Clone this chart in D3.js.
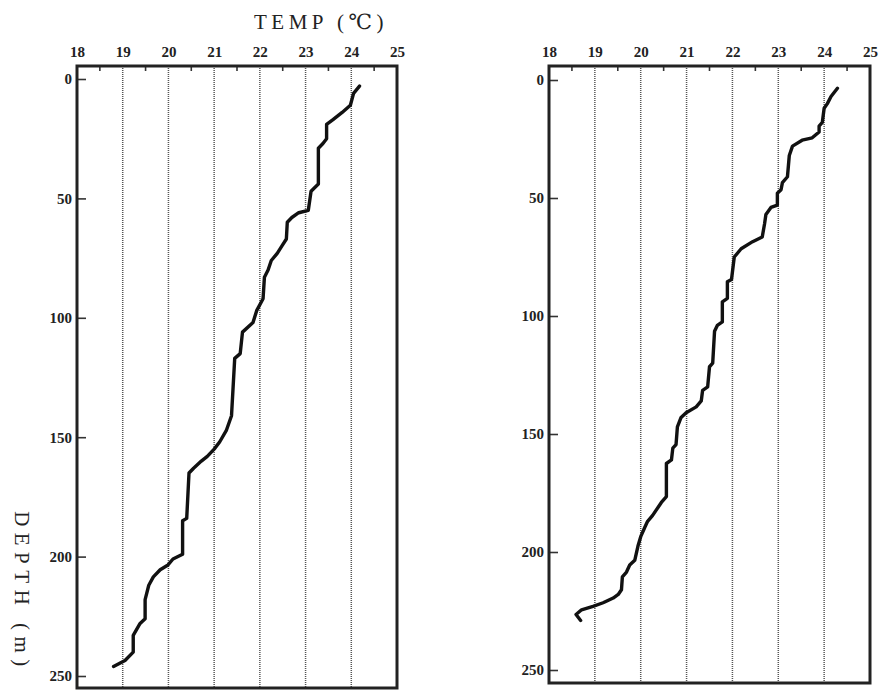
<!DOCTYPE html>
<html>
<head>
<meta charset="utf-8">
<script src="https://cdn.jsdelivr.net/npm/d3@7"></script>
<style>
  body { margin: 0; background: #fff; }
  svg { display: block; }
</style>
</head>
<body>
<svg id="chart" width="879" height="690"></svg>
<script>
// ---- data ----
const tempTicks = [18, 19, 20, 21, 22, 23, 24, 25];
const depthTicks = [0, 50, 100, 150, 200, 250];
const titleText = "TEMP (℃)";
const depthLabel = "DEPTH (m)";

const leftDepth = [3, 6, 11, 14, 17, 19, 25, 27, 29, 44, 47, 55, 56, 58, 60, 67, 70, 73, 76, 80, 83, 92, 97, 102, 106, 115, 117, 141, 147, 152, 155, 158, 160, 163, 165, 184, 185, 199, 201, 203.5, 205.5, 208.5, 212, 218, 226, 228, 233, 240, 243.5, 246];
const leftTemp  = [24.18, 24.05, 23.98, 23.8, 23.6, 23.46, 23.46, 23.38, 23.28, 23.28, 23.12, 23.06, 22.85, 22.7, 22.6, 22.58, 22.48, 22.38, 22.25, 22.18, 22.1, 22.07, 21.93, 21.85, 21.62, 21.57, 21.45, 21.38, 21.27, 21.12, 21.0, 20.85, 20.72, 20.55, 20.45, 20.4, 20.31, 20.31, 20.1, 19.99, 19.82, 19.67, 19.57, 19.49, 19.49, 19.38, 19.23, 19.23, 19.05, 18.8];

const rightDepth = [3.5, 7, 10, 12, 18, 19.5, 22, 24.5, 25.5, 28, 32, 41, 43.5, 46.5, 48, 53, 54, 57, 61, 66.5, 68.5, 71.5, 75, 84.5, 85.5, 92.5, 94, 102.5, 104, 106.5, 120, 121.5, 130, 131.5, 136, 138.5, 141, 143, 147, 154.5, 156, 161, 162.5, 176.5, 179, 184.5, 187, 189.5, 193.5, 197.5, 203.5, 205.5, 208.5, 210.5, 216, 218, 219.5, 221.5, 223, 224.5, 226.5, 229];
const rightTemp  = [24.29, 24.15, 24.07, 24.0, 23.96, 23.89, 23.89, 23.74, 23.52, 23.31, 23.24, 23.2, 23.09, 23.06, 22.98, 22.98, 22.84, 22.73, 22.7, 22.65, 22.44, 22.19, 22.04, 21.98, 21.89, 21.89, 21.78, 21.78, 21.67, 21.61, 21.57, 21.5, 21.46, 21.35, 21.32, 21.21, 20.99, 20.88, 20.8, 20.77, 20.7, 20.67, 20.56, 20.56, 20.45, 20.26, 20.15, 20.09, 20.0, 19.94, 19.87, 19.76, 19.69, 19.6, 19.58, 19.51, 19.4, 19.18, 18.96, 18.71, 18.59, 18.69];

// ---- layout ----
const svg = d3.select("#chart");
const panels = [
  { x0: 77, x1: 397, top: 66, bottom: 688, y0: 79, y250: 676, depth: leftDepth, temp: leftTemp },
  { x0: 549, x1: 870, top: 66, bottom: 683, y0: 80, y250: 670, depth: rightDepth, temp: rightTemp }
];

const labelFont = "'Liberation Serif', 'DejaVu Serif', serif";

panels.forEach(p => {
  const x = d3.scaleLinear().domain([18, 25]).range([p.x0, p.x1]);
  const y = d3.scaleLinear().domain([0, 250]).range([p.y0, p.y250]);
  const g = svg.append("g");

  // dotted gridlines
  g.selectAll("line.grid").data(tempTicks.slice(1, -1)).join("line")
    .attr("class", "grid")
    .attr("x1", d => x(d)).attr("x2", d => x(d))
    .attr("y1", p.top).attr("y2", p.bottom)
    .attr("stroke", "#555").attr("stroke-width", 1.5)
    .attr("stroke-dasharray", "1,1");

  // top axis
  const topAxis = d3.axisTop(x).tickValues(tempTicks).tickSize(0).tickPadding(9)
    .tickFormat(d3.format("d"));
  const ta = g.append("g").attr("transform", `translate(0,${p.top})`).call(topAxis);
  ta.select(".domain").remove();
  ta.selectAll("text").attr("font-family", labelFont).attr("font-weight", "bold")
    .attr("font-size", 15).attr("fill", "#222");

  // minor ticks on top (inside)
  const minor = d3.range(18.5, 25, 1);
  g.selectAll("line.minor").data(minor).join("line")
    .attr("x1", d => x(d)).attr("x2", d => x(d))
    .attr("y1", p.top).attr("y2", p.top + 5)
    .attr("stroke", "#333").attr("stroke-width", 1.6);

  // left axis
  const leftAxis = d3.axisRight(y).tickValues(depthTicks).tickSize(9).tickPadding(-30)
    .tickFormat(d3.format("d"));
  const la = g.append("g").attr("transform", `translate(${p.x0},0)`).call(leftAxis);
  la.select(".domain").remove();
  la.selectAll(".tick line").attr("stroke", "#333").attr("stroke-width", 1.6);
  la.selectAll("text").attr("text-anchor", "end").attr("x", -5)
    .attr("font-family", labelFont).attr("font-weight", "bold")
    .attr("font-size", 15).attr("fill", "#222");

  // frame
  g.append("rect")
    .attr("x", p.x0).attr("y", p.top)
    .attr("width", p.x1 - p.x0).attr("height", p.bottom - p.top)
    .attr("fill", "none").attr("stroke", "#222").attr("stroke-width", 3);

  // profile
  const pts = p.depth.map((d, i) => [p.temp[i], d]);
  const line = d3.line().x(d => x(d[0])).y(d => y(d[1])).curve(d3.curveLinear);
  g.append("path").datum(pts)
    .attr("d", line)
    .attr("fill", "none").attr("stroke", "#111")
    .attr("stroke-width", 3.4).attr("stroke-linejoin", "round").attr("stroke-linecap", "round");
});

// title
svg.append("text")
  .attr("x", 321).attr("y", 29)
  .attr("text-anchor", "middle")
  .attr("font-family", labelFont).attr("font-size", 21)
  .attr("letter-spacing", 4.5).attr("fill", "#222")
  .text(titleText);

// y label (rotated clockwise, reads top to bottom)
svg.append("text")
  .attr("transform", "translate(15,592) rotate(90)")
  .attr("text-anchor", "middle")
  .attr("font-family", labelFont).attr("font-size", 21)
  .attr("letter-spacing", 6.5).attr("fill", "#222")
  .text(depthLabel);
</script>
</body>
</html>
